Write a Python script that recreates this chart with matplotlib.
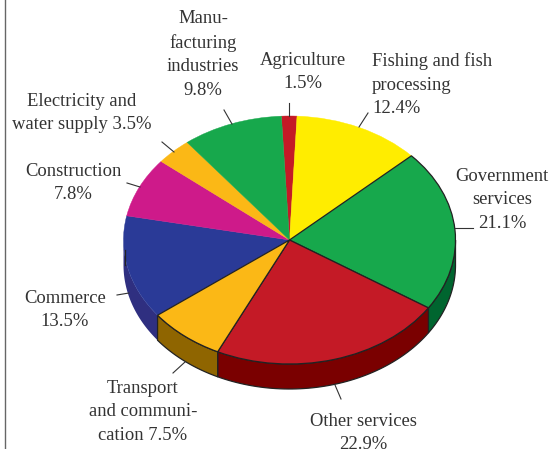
import numpy as np
import matplotlib
matplotlib.use('Agg')
import matplotlib.pyplot as plt

sectors = ['Agriculture', 'Fishing', 'Government', 'Other services', 'Transport',
           'Commerce', 'Construction', 'Electricity', 'Manufacturing']
shares = [1.5, 12.4, 21.1, 22.9, 7.5, 13.5, 7.8, 3.5, 9.8]
top_colors = ['#C41A26', '#FFED00', '#17A84C', '#C41A26', '#FBB816',
              '#2A3A97', '#CE1A8A', '#FBB816', '#17A84C']
side_colors = ['#7A0000', '#A09400', '#00652F', '#7A0000', '#8F6500',
               '#2F2F80', '#800060', '#8F6500', '#00652F']
outlined = ['Government', 'Other services', 'Transport']
label_texts = ['Agriculture\n1.5%', 'Fishing and fish\nprocessing\n12.4%',
               'Government\nservices\n21.1%', 'Other services\n22.9%',
               'Transport\nand communi-\ncation 7.5%', 'Commerce\n13.5%',
               'Construction\n7.8%', 'Electricity and\nwater supply 3.5%',
               'Manu-\nfacturing\nindustries\n9.8%']

W, H = 552, 449
CX, CY, RX, RY = 289.5, 240, 166, 124
DEPTH = 25 / RY
START = 92.8  # degrees, counter-clockwise from +x

plt.rcParams['font.family'] = ['Liberation Serif', 'DejaVu Serif']
fig = plt.figure(figsize=(W / 100, H / 100), dpi=100)

# pie axes: radius 1 maps to an ellipse of RX by RY pixels
ax = fig.add_axes([0, 0, 1, 1])
wedges, _ = ax.pie(shares, colors=top_colors, startangle=START, counterclock=False,
                   wedgeprops=dict(linewidth=0.3, zorder=3))
for name, wedge in zip(sectors, wedges):
    if name in outlined:
        wedge.set(edgecolor='#222222', linewidth=0.9, zorder=4)
    else:
        wedge.set_edgecolor(wedge.get_facecolor())
ax.set_aspect('auto')
ax.set_xlim(-CX / RX, (W - CX) / RX)
ax.set_ylim((CY - H) / RY, CY / RY)

# side wall of the disc, only the front half shows
edges = START - np.cumsum([0] + shares) * 3.6
for i, name in enumerate(sectors):
    lo, hi = max(edges[i + 1], -180), min(edges[i], 0)
    if hi <= lo:
        continue
    t = np.radians(np.linspace(lo, hi, 60))
    xs = np.r_[np.cos(t), np.cos(t[::-1])]
    ys = np.r_[np.sin(t), np.sin(t[::-1]) - DEPTH]
    if name in outlined:
        ax.fill(xs, ys, facecolor=side_colors[i], edgecolor='#222222', lw=0.9, zorder=2)
    else:
        ax.fill(xs, ys, facecolor=side_colors[i], edgecolor='none', zorder=1)

# overlay in pixel coordinates for labels and leader lines
over = fig.add_axes([0, 0, 1, 1], facecolor='none')
over.set_xlim(0, W)
over.set_ylim(H, 0)
over.axis('off')

label_pos = [(303, 72, 'center'), (372, 85, 'left'), (502, 200, 'center'),
             (363, 433, 'center'), (143, 412, 'center'), (65, 310, 'center'),
             (73, 183, 'center'), (82, 113, 'center'), (203, 54.5, 'center')]
for text, (x, y, ha) in zip(label_texts, label_pos):
    over.text(x, y, text, ha=ha, va='center', fontsize=13.4, color='#333333',
              linespacing=1.5, multialignment=ha)

leaders = [((289, 103), (289, 116)), ((368, 113), (359, 127)), ((455, 228), (473, 228)),
           ((335, 385), (341, 399)), ((173, 373), (185, 362)), ((117, 295), (129, 293)),
           ((127, 183), (140, 187)), ((162, 142), (174, 152)), ((224, 110), (232, 124))]
for p, q in leaders:
    over.plot([p[0], q[0]], [p[1], q[1]], color='#333333', lw=0.8)

# short dark stretch on the left rim and the rule down the left side
over.plot([124.5, 124.5], [250, 265], color='#222222', lw=0.9)
over.plot([4.5, 4.5], [0, H], color='#666666', lw=1.0)

fig.savefig('out.png', dpi=100)
